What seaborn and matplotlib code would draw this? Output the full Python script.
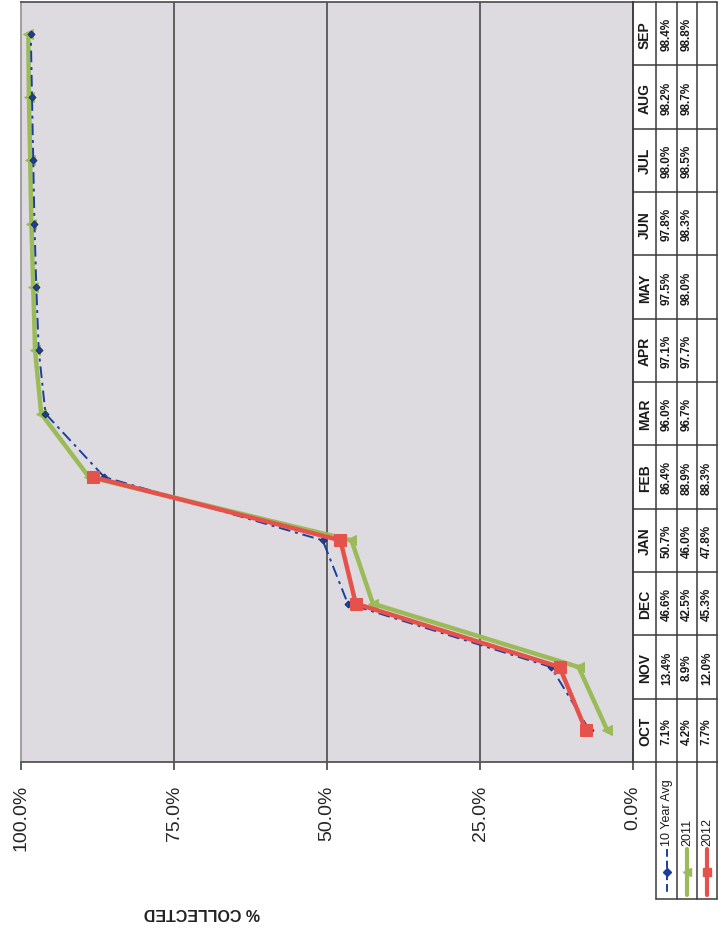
import numpy as np
import pandas as pd
import matplotlib
matplotlib.use("Agg")
import matplotlib.pyplot as plt
import seaborn as sns

# ---------------- data ----------------
months = ["OCT", "NOV", "DEC", "JAN", "FEB", "MAR", "APR", "MAY", "JUN", "JUL", "AUG", "SEP"]
avg10 = [7.1, 13.4, 46.6, 50.7, 86.4, 96.0, 97.1, 97.5, 97.8, 98.0, 98.2, 98.4]
y2011 = [4.2, 8.9, 42.5, 46.0, 88.9, 96.7, 97.7, 98.0, 98.3, 98.5, 98.7, 98.8]
y2012 = [7.7, 12.0, 45.3, 47.8, 88.3]
series_names = ["10 Year Avg", "2011", "2012"]
tick_vals = [100, 75, 50, 25, 0]
tick_labels = ["100.0%", "75.0%", "50.0%", "25.0%", "0.0%"]
axis_title = "% COLLECTED"

# ---------------- style ----------------
sns.set_style("white")
plt.rcParams["font.family"] = ["Liberation Sans", "DejaVu Sans"]

W, H = 718, 929
fig = plt.figure(figsize=(W / 100, H / 100), dpi=100)
fig.patch.set_facecolor("white")


def rect(x0, y0, x1, y1):
    return [x0 / W, 1 - y1 / H, (x1 - x0) / W, (y1 - y0) / H]


BLUE = "#1c3f9c"
GREEN = "#9bbb59"
RED = "#e5524c"
LINE = "#3a3a3a"

# ---------------- main plot (rotated layout) ----------------
ax = fig.add_axes(rect(21, 3, 633, 763))
ax.set_facecolor("#dddbe0")
idx = np.arange(len(months))

df10 = pd.DataFrame({"pct": avg10, "m": idx})
df11 = pd.DataFrame({"pct": y2011, "m": idx})
df12 = pd.DataFrame({"pct": y2012, "m": idx[:len(y2012)]})

for v in [75, 50, 25]:
    ax.axvline(v, color="#4a4a4a", lw=1.2, zorder=1)

sns.lineplot(data=df11, x="pct", y="m", ax=ax, orient="y", sort=False,
             color=GREEN, lw=3.2, marker="<", markersize=7,
             markeredgecolor=GREEN, zorder=3)
sns.lineplot(data=df10, x="pct", y="m", ax=ax, orient="y", sort=False,
             color=BLUE, lw=1.4, dashes=(6, 2.5, 1.5, 2.5), marker="D",
             markersize=3.5, markeredgecolor="#1a2f6a", zorder=4)
sns.lineplot(data=df12, x="pct", y="m", ax=ax, orient="y", sort=False,
             color=RED, lw=3.2, marker="s", markersize=8,
             markeredgecolor=RED, zorder=5)

ax.set_xlim(100, 0)
ax.set_ylim(-0.5, len(months) - 0.5)
ax.set_yticks([])
ax.set_xticks(tick_vals)
ax.set_xticklabels(tick_labels, rotation=90, fontsize=14, va="top", ha="center")
ax.tick_params(axis="x", length=6, width=1.2, color="#444444", pad=10, bottom=True)
ax.set_xlabel("")
ax.set_ylabel("")
for s in ["top", "right", "bottom"]:
    ax.spines[s].set_color("#555555")
    ax.spines[s].set_linewidth(1.3)
ax.spines["left"].set_color("#9a9a9a")
ax.spines["left"].set_linewidth(1.3)

fig.text(202 / W, 1 - 913 / H, axis_title, rotation=180, fontsize=11.5,
         fontweight="bold", ha="center", va="center", color="#222222")

# ---------------- data table (right side) ----------------
tax = fig.add_axes(rect(633, 3, 718, 763))
tax.set_xlim(633, 718)
tax.set_ylim(-0.5, len(months) - 0.5)
tax.axis("off")
col_x = [633, 656, 677, 697, 717]
col_c = [645, 667, 687, 707]
for x in col_x:
    tax.plot([x, x], [-0.5, len(months) - 0.5], color=LINE, lw=1.1, clip_on=False)
for i in range(len(months) + 1):
    tax.plot([633, 717], [i - 0.5, i - 0.5], color=LINE, lw=1.1, clip_on=False)

rows = [avg10, y2011, y2012]
for i, m in enumerate(months):
    tax.text(col_c[0], i, m, rotation=90, ha="center", va="center",
             fontsize=10, fontweight="bold", color="#1a1a1a")
    for j, vals in enumerate(rows):
        if i < len(vals):
            tax.text(col_c[j + 1], i, f"{vals[i]:.1f}%", rotation=90, ha="center",
                     va="center", fontsize=8.5, fontweight="bold", color="#1a1a1a")

# ---------------- legend block (below table) ----------------
lax = fig.add_axes(rect(633, 763, 718, 929))
lax.set_xlim(633, 718)
lax.set_ylim(929, 763)
lax.axis("off")
for x in [656, 677, 697, 717]:
    lax.plot([x, x], [763, 900], color=LINE, lw=1.1, clip_on=False)
lax.plot([656, 717], [900, 900], color=LINE, lw=1.1, clip_on=False)

leg_styles = [
    dict(color=BLUE, lw=1.4, dashes=(4, 2), marker="D", ms=4),
    dict(color=GREEN, lw=3, marker="<", ms=6),
    dict(color=RED, lw=3, marker="s", ms=6),
]
for j, (name, st) in enumerate(zip(series_names, leg_styles)):
    cx = col_c[j + 1]
    lax.text(cx, 846, name, rotation=90, ha="center", va="bottom",
             fontsize=9, color="#1a1a1a")
    lax.plot([cx, cx], [850, 896], **{k: v for k, v in st.items() if k not in ("marker", "ms")},
             clip_on=False)
    lax.plot([cx], [873], marker=st["marker"], ms=st["ms"], color=st["color"],
             linestyle="none", clip_on=False)

fig.savefig("out.png", dpi=100, facecolor="white")
